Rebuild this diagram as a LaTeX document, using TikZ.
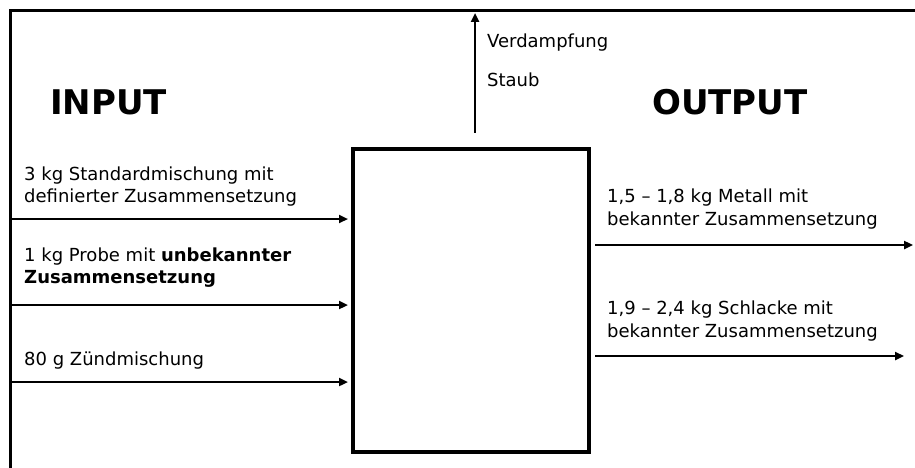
\documentclass[tikz,border=0pt]{standalone}
\usepackage{fontspec}
\setmainfont{DejaVu Sans}
\usetikzlibrary{arrows.meta}
\tikzset{
  lbl/.style={anchor=base west, inner sep=0pt, font=\fontsize{18}{22}\selectfont},
  head/.style={anchor=base west, inner sep=0pt, font=\fontsize{34}{40}\selectfont\bfseries},
  flow/.style={line width=2.5pt, -{Triangle[length=9pt,width=8pt]}},
  frame/.style={line width=3pt},
  oven/.style={draw, line width=4pt, minimum width=236pt, minimum height=303pt, inner sep=0pt}
}
\begin{document}
\begin{tikzpicture}[x=1pt,y=-1pt]
\useasboundingbox (0,0) rectangle (915,468);
% outer frame (cropped)
\coordinate (fbl) at (10.5,470);
\coordinate (ftl) at (10.5,10.5);
\coordinate (ftr) at (917,10.5);
\draw[frame] (fbl) -- (ftl) -- (ftr);
% central box
\node[oven] (box) at (471,300.5) {};
% headings
\node[head] (input) at (50,115) {INPUT};
\node[head] (output) at (652,115) {OUTPUT};
% up arrow
\coordinate (ub) at (475,133);
\coordinate (ut) at (475,13);
\draw[flow] (ub) -- (ut);
\node[lbl] (verd) at (487,48) {Verdampfung};
\node[lbl] (staub) at (487,87) {Staub};
% inputs
\node[lbl] (i1a) at (24,180) {3 kg Standardmischung mit};
\node[lbl] (i1b) at (24,202) {definierter Zusammensetzung};
\coordinate (i1s) at (12,219);
\coordinate (i1e) at (348,219);
\draw[flow] (i1s) -- (i1e);
\node[lbl] (i2a) at (24,261) {1 kg Probe mit \textbf{unbekannter}};
\node[lbl] (i2b) at (24,283) {\textbf{Zusammensetzung}};
\coordinate (i2s) at (12,305);
\coordinate (i2e) at (348,305);
\draw[flow] (i2s) -- (i2e);
\node[lbl] (i3a) at (24,365) {80 g Zündmischung};
\coordinate (i3s) at (12,382);
\coordinate (i3e) at (348,382);
\draw[flow] (i3s) -- (i3e);
% outputs
\node[lbl] (o1a) at (607,202) {1,5 – 1,8 kg Metall mit};
\node[lbl] (o1b) at (607,225) {bekannter Zusammensetzung};
\coordinate (o1s) at (595,245);
\coordinate (o1e) at (913,245);
\draw[flow] (o1s) -- (o1e);
\node[lbl] (o2a) at (607,314) {1,9 – 2,4 kg Schlacke mit};
\node[lbl] (o2b) at (607,337) {bekannter Zusammensetzung};
\coordinate (o2s) at (595,356);
\coordinate (o2e) at (904,356);
\draw[flow] (o2s) -- (o2e);
\end{tikzpicture}
\end{document}
